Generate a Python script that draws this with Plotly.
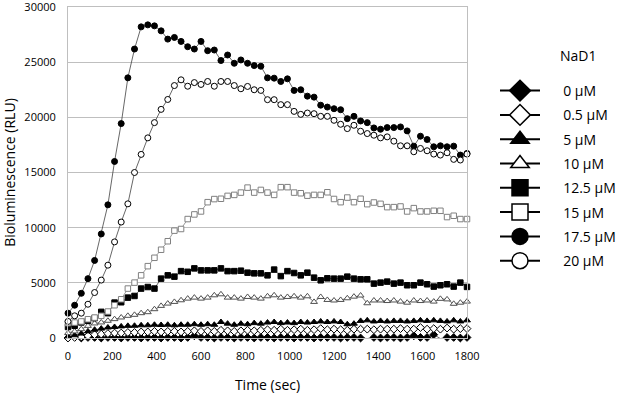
import plotly.graph_objects as go

time_sec = list(range(0, 1801, 30))

conc_labels = ["0 µM", "0.5 µM", "5 µM", "10 µM", "12.5 µM", "15 µM", "17.5 µM", "20 µM"]

rlu_0 = [0, -50, 0, 50, 50, 0, 50, 50, 0, 50, 50, 0, 50, 50, 0, 50, 50, 0, 50, 200,
         50, 50, 0, 50, 50, 0, 50, 50, 0, 50, 50, 0, 50, 50, 0, 50, 50, 0, 50, 50,
         50, 0, 50, 50, 0, -50, 50, 0, 50, 50, 0, 50, 200, 50, 50, 300, -50, 50, 50, 0, 50]
rlu_05 = [0, 50, 100, 200, 300, 350, 400, 450, 450, 500, 500, 550, 550, 600, 550, 600, 600, 550, 600, 650,
          600, 650, 600, 700, 650, 600, 650, 700, 650, 700, 750, 700, 800, 700, 750, 800, 700, 750, 850, 750,
          800, 750, 700, 800, 800, 800, 750, 800, 800, 800, 850, 800, 800, 950, 800, 850, 800, 900, 800, 850, 850]
rlu_5 = [150, 250, 400, 600, 750, 850, 950, 1000, 1050, 1100, 1110, 1150, 1150, 1200, 1180, 1200, 1150, 1200, 1200, 1250,
         1200, 1250, 1200, 1450, 1300, 1200, 1300, 1250, 1350, 1300, 1400, 1450, 1350, 1400, 1350, 1450, 1400, 1450, 1500, 1450,
         1500, 1450, 1250, 1300, 1550, 1600, 1500, 1550, 1500, 1550, 1550, 1500, 1550, 1600, 1550, 1600, 1550, 1500, 1600, 1500, 1600]
rlu_10 = [450, 600, 800, 1100, 1320, 1410, 1560, 1710, 1860, 2010, 2100, 2250, 2340, 2610, 2910, 3120, 3270, 3420, 3570, 3660,
          3570, 3660, 3870, 3960, 3660, 3660, 3570, 3720, 3660, 3570, 3780, 3870, 3660, 3720, 3780, 3660, 3780, 3270, 3720, 3450,
          3400, 3450, 3600, 3750, 3850, 3150, 3400, 3400, 3350, 3400, 3300, 3200, 3400, 3350, 3400, 3300, 3550, 3500, 3100, 3200, 3300]
rlu_125 = [1000, 1110, 1410, 1560, 1800, 2370, 2250, 3210, 3240, 3660, 3810, 4480, 4620, 4480, 5380, 5680, 5560, 6060, 6000, 6310,
           6130, 6130, 6130, 6310, 6060, 6060, 6100, 5920, 5860, 5860, 5680, 6200, 5610, 6060, 5890, 5680, 5920, 5470, 5230, 5410,
           5380, 5380, 5560, 5380, 5320, 5320, 4930, 5020, 5110, 4930, 5020, 4780, 4780, 5020, 4870, 4660, 4780, 4870, 4660, 5020, 4630]
rlu_15 = [1350, 1400, 1500, 1700, 1850, 2010, 2400, 2970, 3510, 4480, 5020, 5680, 6510, 7270, 8000, 8770, 9730, 9880, 10780, 11200,
          11470, 12310, 12590, 12620, 12880, 12970, 13180, 13630, 13180, 13420, 13180, 12970, 13670, 13670, 13180, 13120, 12900, 12970, 12970, 13210,
          12600, 12310, 12730, 12310, 12620, 12130, 12280, 12160, 11860, 11860, 11920, 11470, 11770, 11470, 11470, 11530, 11530, 10960, 11080, 10780, 10780]
rlu_175 = [2250, 2970, 4050, 5380, 7030, 9430, 12070, 16000, 19430, 23580, 26190, 28200, 28380, 28290, 27840, 27090, 27240, 26880, 26400, 26190,
           26880, 26040, 26100, 25150, 25650, 24900, 25200, 24900, 24690, 24630, 23580, 23550, 23250, 23490, 22440, 22500, 21920, 21830, 21100, 20930,
           20780, 20690, 19880, 20090, 19670, 19520, 19040, 18920, 19070, 19070, 19130, 18770, 17390, 18290, 17990, 17330, 17420, 17330, 17390, 16580, 16730]
rlu_20 = [1500, 2010, 2250, 3060, 4120, 5250, 6600, 8710, 10510, 12160, 15000, 16640, 18140, 19520, 20720, 21620, 22880, 23400, 22820, 23150,
          22980, 23250, 22820, 23250, 23250, 22880, 22590, 22800, 22500, 22440, 21600, 21600, 21150, 21150, 20540, 20270, 20390, 20330, 20090, 20090,
          19730, 19370, 18980, 19280, 18740, 18530, 18380, 18140, 18230, 17840, 17420, 17420, 16880, 17180, 16970, 16670, 16580, 16790, 16190, 16130, 16670]

series = [rlu_0, rlu_05, rlu_5, rlu_10, rlu_125, rlu_15, rlu_175, rlu_20]

# styling per series: symbol, fill, outline, line colour, marker size
styles = [
    ("diamond", "black", "black", "#404040", 6),
    ("diamond", "white", "black", "#404040", 6),
    ("triangle-up", "black", "black", "#404040", 6),
    ("triangle-up", "white", "#505050", "#505050", 6),
    ("square", "black", "black", "#404040", 5.5),
    ("square", "white", "#808080", "#808080", 5.5),
    ("circle", "black", "black", "#404040", 6),
    ("circle", "white", "black", "#404040", 6),
]

fig = go.Figure()
for name, ys, (sym, fill, outline, lc, ms) in zip(conc_labels, series, styles):
    fig.add_trace(go.Scatter(
        x=time_sec, y=ys, mode="lines+markers", name=name, showlegend=False,
        line=dict(color=lc, width=0.8),
        marker=dict(symbol=sym, size=ms, color=fill, line=dict(color=outline, width=1)),
        cliponaxis=False,
    ))

pad = "\u00a0" * 5
for i, (name, (sym, fill, outline, lc, ms)) in enumerate(zip(conc_labels, styles)):
    fig.add_trace(go.Scatter(
        x=[None], y=[None], mode="lines+markers", name=pad + name, legendgroup=f"g{i}",
        line=dict(color="black", width=2),
        marker=dict(symbol=sym, size=16, color=fill, line=dict(color="black", width=1.5)),
    ))

font_family = "Open Sans, Noto Sans, sans-serif"

fig.update_layout(
    width=617, height=394,
    margin=dict(l=68, r=150, t=7, b=56, autoexpand=False),
    paper_bgcolor="white", plot_bgcolor="white",
    font=dict(family=font_family, size=11, color="black"),
    showlegend=True,
    legend=dict(
        x=(495 - 68) / 399, xanchor="left",
        y=1 - (75 - 7) / 331, yanchor="top",
        font=dict(size=14, color="black"),
        itemwidth=40,
        traceorder="grouped", tracegroupgap=3.1,
        bgcolor="rgba(0,0,0,0)", borderwidth=0,
    ),
    annotations=[dict(
        text="NaD1", xref="paper", yref="paper",
        x=(558 - 68) / 399, y=1 - (55 - 7) / 331,
        xanchor="left", yanchor="middle", showarrow=False,
        font=dict(size=14, color="black"),
    )],
)

fig.update_xaxes(
    range=[0, 1800], tickvals=list(range(0, 1801, 200)), tickformat="d",
    showgrid=False, zeroline=False, automargin=False,
    showline=True, linecolor="#bfbfbf", linewidth=1, mirror=True,
    ticks="", ticklabelstandoff=8,
    title=dict(text="Time (sec)", font=dict(size=14), standoff=18),
)
fig.update_yaxes(
    range=[0, 30000], tickvals=list(range(0, 30001, 5000)), tickformat="d",
    showgrid=True, gridcolor="#bfbfbf", gridwidth=1, zeroline=False, automargin=False,
    showline=True, linecolor="#bfbfbf", linewidth=1, mirror=True,
    ticks="", ticklabelstandoff=9, ticklabeloverflow="allow",
    title=dict(text="Bioluminescence (RLU)", font=dict(size=14), standoff=6),
)

fig.write_html("out.html", config={"displayModeBar": False},
               post_script="document.body.style.margin='0px';")
